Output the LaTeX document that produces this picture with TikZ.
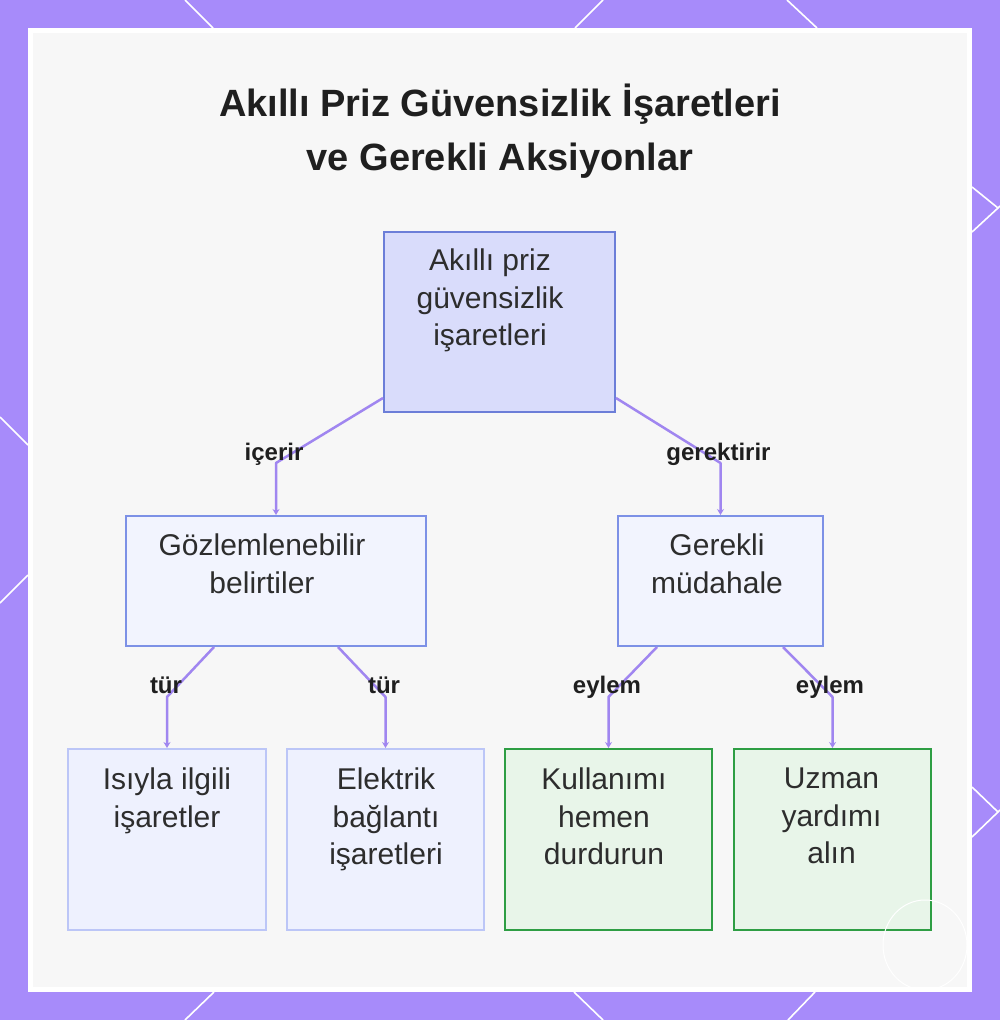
\documentclass[tikz,border=0pt]{standalone}
\usepackage{fontspec}
\setmainfont{Liberation Sans}
\usetikzlibrary{arrows.meta}

\definecolor{frameColor}{RGB}{167,139,250}
\definecolor{panelColor}{RGB}{247,247,247}
\definecolor{rootFill}{RGB}{217,220,251}
\definecolor{rootLine}{RGB}{108,126,216}
\definecolor{midFill}{RGB}{242,244,254}
\definecolor{midLine}{RGB}{125,145,230}
\definecolor{leafFill}{RGB}{238,241,254}
\definecolor{leafLine}{RGB}{188,198,247}
\definecolor{actFill}{RGB}{232,245,233}
\definecolor{actLine}{RGB}{46,158,68}
\definecolor{linkColor}{RGB}{160,134,240}
\definecolor{inkColor}{RGB}{45,45,45}

\begin{document}
\begin{tikzpicture}[x=1pt,y=-1pt,
  box/.style={draw, line width=2pt, inner sep=0pt},
  boxtext/.style={anchor=north, inner sep=0pt, align=center, text=inkColor,
    font=\fontsize{30}{37.5}\selectfont},
  titletext/.style={anchor=base, inner sep=0pt, text=black!88,
    font=\bfseries\fontsize{38}{54}\selectfont},
  linklabel/.style={anchor=base, inner sep=0pt, text=black!88,
    font=\bfseries\fontsize{24}{28}\selectfont},
  link/.style={draw=linkColor, line width=2.5pt, line join=round,
    -{Stealth[length=6pt,width=7pt]}},
  edge/.style={white, line width=1.6pt}]
  \useasboundingbox (0,0) rectangle (1000,1020);
  % Frame
  \fill[frameColor] (0,0) rectangle (1000,1020);
  \fill[white] (28,28) rectangle (972,992);
  \fill[panelColor] (33,33) rectangle (967,987);
  \draw[edge] (185,0) -- (213,28);
  \draw[edge] (603,0) -- (575,28);
  \draw[edge] (787,0) -- (817,28);
  \draw[edge] (972,187) -- (998,208) -- (972,232);
  \draw[edge] (998,208) -- (1000,206);
  \draw[edge] (972,787) -- (998,812) -- (972,837);
  \draw[edge] (998,812) -- (1000,810);
  \draw[edge] (0,417) -- (28,445);
  \draw[edge] (28,575) -- (0,603);
  \draw[edge] (214,992) -- (185,1020);
  \draw[edge] (574,992) -- (603,1020);
  \draw[edge] (815,992) -- (788,1020);
  % Title
  \node[titletext] (title1) at (500,116) {Akıllı Priz Güvensizlik İşaretleri};
  \node[titletext] (title2) at (500,170) {ve Gerekli Aksiyonlar};
  % Boxes
  \node[box, draw=rootLine, fill=rootFill, minimum width=231pt, minimum height=180pt] (root) at (499.5,322) {};
  \node[box, draw=midLine, fill=midFill, minimum width=300pt, minimum height=130pt] (gozlem) at (276,581) {};
  \node[box, draw=midLine, fill=midFill, minimum width=205pt, minimum height=130pt] (gerekli) at (720.5,581) {};
  \node[box, draw=leafLine, fill=leafFill, minimum width=198pt, minimum height=181pt] (isi) at (167,839.5) {};
  \node[box, draw=leafLine, fill=leafFill, minimum width=197pt, minimum height=181pt] (elektrik) at (385.5,839.5) {};
  \node[box, draw=actLine, fill=actFill, minimum width=207pt, minimum height=181pt] (kullan) at (608.5,839.5) {};
  \node[box, draw=actLine, fill=actFill, minimum width=197pt, minimum height=181pt] (uzman) at (832.5,839.5) {};
  % Box texts
  \node[boxtext] (rootText) at (490,249) {Akıllı priz\\güvensizlik\\işaretleri};
  \node[boxtext] (gozlemText) at (262,534) {Gözlemlenebilir\\belirtiler};
  \node[boxtext] (gerekliText) at (717,534) {Gerekli\\müdahale};
  \node[boxtext] (isiText) at (167,768) {Isıyla ilgili\\işaretler};
  \node[boxtext] (elektrikText) at (386,768) {Elektrik\\bağlantı\\işaretleri};
  \node[boxtext] (kullanText) at (604,768) {Kullanımı\\hemen\\durdurun};
  \node[boxtext] (uzmanText) at (831.5,768) {Uzman\\yardımı\\alın};
  % Connectors
  \coordinate (bendIcerir) at (276,463);
  \coordinate (bendGerek) at (720.5,463);
  \coordinate (bendIsi) at (167,697);
  \coordinate (bendElek) at (385.5,697);
  \coordinate (bendKullan) at (608.5,697);
  \coordinate (bendUzman) at (832.5,697);
  \draw[link] ([yshift=15pt]root.south west) -- (bendIcerir) -- (gozlem.north);
  \draw[link] ([yshift=15pt]root.south east) -- (bendGerek) -- (gerekli.north);
  \draw[link] ([xshift=-62pt]gozlem.south) -- (bendIsi) -- (isi.north);
  \draw[link] ([xshift=62pt]gozlem.south) -- (bendElek) -- (elektrik.north);
  \draw[link] ([xshift=-63.5pt]gerekli.south) -- (bendKullan) -- (kullan.north);
  \draw[link] ([xshift=62.5pt]gerekli.south) -- (bendUzman) -- (uzman.north);
  % Labels
  \node[linklabel] (lblIcerir) at (274,460) {içerir};
  \node[linklabel] (lblGerek) at (718.5,460) {gerektirir};
  \node[linklabel] (lblTur1) at (166,693) {tür};
  \node[linklabel] (lblTur2) at (384,693) {tür};
  \node[linklabel] (lblEylem1) at (607,693) {eylem};
  \node[linklabel] (lblEylem2) at (830,693) {eylem};
  % Watermark
  \draw[white, line width=1pt] (925,945) ellipse (42pt and 45pt);
\end{tikzpicture}
\end{document}
